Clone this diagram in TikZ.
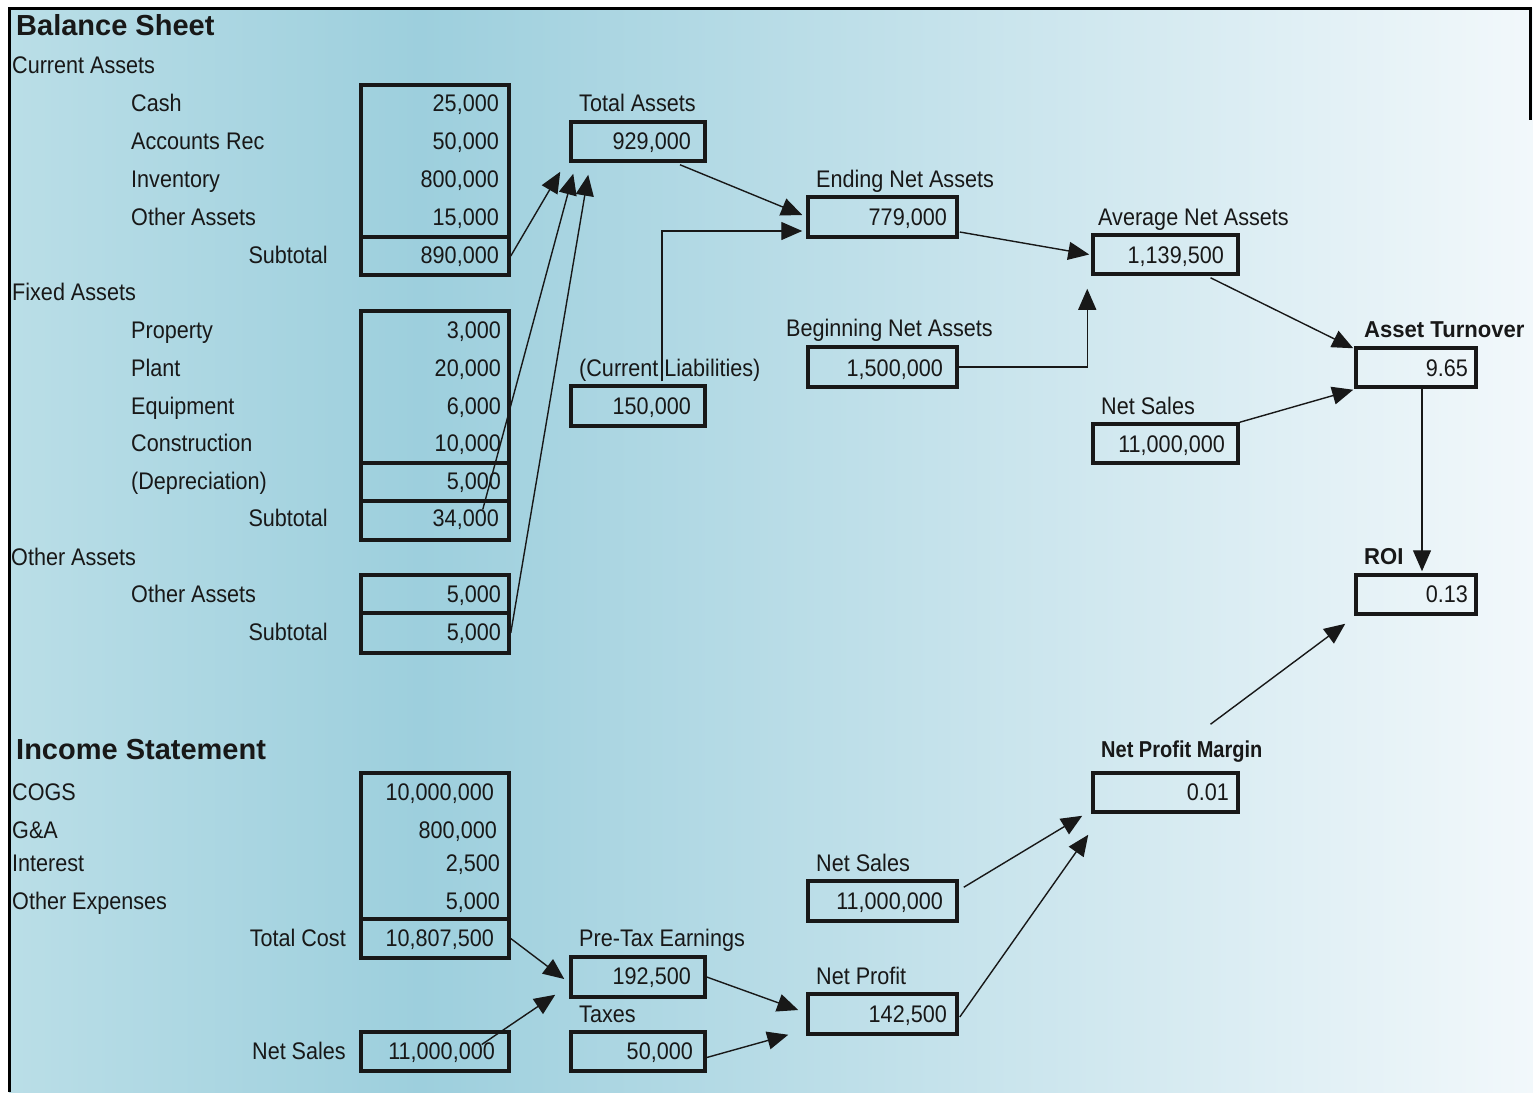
\documentclass[tikz,border=0pt]{standalone}
\usepackage{fontspec}
\setmainfont{Liberation Sans}[FakeStretch=0.9]
\newfontfamily\titlefont{Liberation Sans}
\usetikzlibrary{arrows.meta,positioning,calc}

\definecolor{bgleft}{RGB}{186,222,231}
\definecolor{bgmid}{RGB}{157,207,221}
\definecolor{bgright}{RGB}{242,248,251}
\definecolor{ink}{RGB}{24,24,24}

\newcommand{\txt}{\fontsize{24}{28}\selectfont}
\newcommand{\hdr}{\fontsize{23}{27}\selectfont\bfseries\addfontfeature{FakeStretch=0.96}}
\newcommand{\ttl}{\titlefont\fontsize{29}{34}\selectfont\bfseries}

\begin{document}
\begin{tikzpicture}[x=1pt,y=-1pt,>={Triangle[length=21pt,width=18pt]},
    box/.style={draw=ink, line width=3.5pt, minimum width=148pt, minimum height=38pt, inner sep=0pt},
    lbl/.style={anchor=base west, inner sep=0pt, text=ink, font=\txt},
    num/.style={anchor=base east, inner sep=0pt, text=ink, font=\txt},
    hd/.style={anchor=base west, inner sep=0pt, text=ink, font=\hdr},
    title/.style={anchor=base west, inner sep=0pt, text=ink, font=\ttl},
    link/.style={->, line width=1.4pt, draw=ink}]

    \useasboundingbox (0,0) rectangle (1533,1092);
    \shade[left color=bgleft, right color=bgmid] (9,8) rectangle (420,1092);
    \shade[left color=bgmid, right color=bgright] (420,8) rectangle (1533,1092);
    \draw[line width=3pt] (9,1092) -- (9,8) -- (1530,8) -- (1530,120);

    % balance sheet
    \node[title] (bs) at (16,35) {Balance Sheet};
    \node[lbl] (cahd) at (12,73) {Current Assets};
    \node[lbl] (ca1) at (131,111) {Cash};
    \node[lbl] (ca2) at (131,149) {Accounts Rec};
    \node[lbl] (ca3) at (131,187) {Inventory};
    \node[lbl] (ca4) at (131,225) {Other Assets};
    \node[lbl, anchor=base east] (cas) at (328,263) {Subtotal};

    \node[lbl] (fahd) at (12,300) {Fixed Assets};
    \node[lbl] (fa1) at (131,338) {Property};
    \node[lbl] (fa2) at (131,376) {Plant};
    \node[lbl] (fa3) at (131,414) {Equipment};
    \node[lbl] (fa4) at (131,451) {Construction};
    \node[lbl] (fa5) at (131,489) {(Depreciation)};
    \node[lbl, anchor=base east] (fas) at (328,526) {Subtotal};

    \node[lbl] (oahd) at (11,565) {Other Assets};
    \node[lbl] (oa1) at (131,602) {Other Assets};
    \node[lbl, anchor=base east] (oas) at (328,640) {Subtotal};

    \node[box, minimum height=152pt] (curbox) at (435,161) {};
    \node[box] (cursub) at (435,256) {};
    \node[box, minimum height=152pt] (fixbox) at (435,387) {};
    \node[box] (depbox) at (435,482) {};
    \node[box, minimum height=39pt] (fixsub) at (435,520.5) {};
    \node[box] (othbox) at (435,594) {};
    \node[box, minimum height=40pt] (othsub) at (435,633) {};

    \node[num] (cv1) at (499,111) {25,000};
    \node[num] (cv2) at (499,149) {50,000};
    \node[num] (cv3) at (499,187) {800,000};
    \node[num] (cv4) at (499,225) {15,000};
    \node[num] (cvs) at (499,263) {890,000};
    \node[num] (fv1) at (501,338) {3,000};
    \node[num] (fv2) at (501,376) {20,000};
    \node[num] (fv3) at (501,414) {6,000};
    \node[num] (fv4) at (501,451) {10,000};
    \node[num] (fv5) at (501,489) {5,000};
    \node[num] (fvs) at (499,526) {34,000};
    \node[num] (ov1) at (501,602) {5,000};
    \node[num] (ovs) at (501,640) {5,000};

    % income statement
    \node[title] (is) at (16,759) {Income Statement};
    \node[lbl] (ex1) at (12,800) {COGS};
    \node[lbl] (ex2) at (12,838) {G\&A};
    \node[lbl] (ex3) at (12,871) {Interest};
    \node[lbl] (ex4) at (12,909) {Other Expenses};
    \node[lbl, anchor=base east] (tcl) at (346,946) {Total Cost};
    \node[lbl, anchor=base east] (nsl) at (346,1059) {Net Sales};

    \node[box, minimum height=146pt] (costbox) at (435,846) {};
    \node[box, minimum height=39pt] (costsub) at (435,938.5) {};
    \node[box, minimum height=39pt] (nsbox) at (435,1051.5) {};

    \node[num] (ev1) at (494,800) {10,000,000};
    \node[num] (ev2) at (497,838) {800,000};
    \node[num] (ev3) at (500,871) {2,500};
    \node[num] (ev4) at (500,909) {5,000};
    \node[num] (evs) at (494,946) {10,807,500};
    \node[num] (nsv) at (495,1059) {11,000,000};

    % ratios
    \node[box, minimum width=134pt, minimum height=39pt] (totbox) at (638,141.5) {};
    \node[box, minimum width=134pt, minimum height=40pt] (liabox) at (638,406) {};
    \node[box, minimum width=134pt, minimum height=40pt] (prebox) at (638,977) {};
    \node[box, minimum width=134pt, minimum height=39pt] (taxbox) at (638,1051.5) {};
    \node[box, minimum width=149pt, minimum height=40pt] (endbox) at (882.5,217) {};
    \node[box, minimum width=149pt, minimum height=40pt] (begbox) at (882.5,367) {};
    \node[box, minimum width=149pt, minimum height=40pt] (salebox) at (882.5,901) {};
    \node[box, minimum width=149pt, minimum height=40pt] (profbox) at (882.5,1014) {};
    \node[box, minimum width=145pt, minimum height=39pt] (avgbox) at (1165.5,254.5) {};
    \node[box, minimum width=145pt, minimum height=39pt] (nsalebox) at (1165.5,443.5) {};
    \node[box, minimum width=145pt, minimum height=39pt] (marbox) at (1165.5,792.5) {};
    \node[box, minimum width=120pt, minimum height=39pt] (turnbox) at (1416,367.5) {};
    \node[box, minimum width=120pt, minimum height=39pt] (roibox) at (1416,594.5) {};

    \node[lbl] (totl) at (579,111) {Total Assets};
    \node[num] (totv) at (691,149) {929,000};
    \node[lbl] (lial) at (579,376) {(Current Liabilities)};
    \node[num] (liav) at (691,414) {150,000};
    \node[lbl] (endl) at (816,187) {Ending Net Assets};
    \node[num] (endv) at (947,225) {779,000};
    \node[lbl] (begl) at (786,336) {Beginning Net Assets};
    \node[num] (begv) at (943,376) {1,500,000};
    \node[lbl] (avgl) at (1098,225) {Average Net Assets};
    \node[num] (avgv) at (1224,263) {1,139,500};
    \node[lbl] (nsalel) at (1101,414) {Net Sales};
    \node[num] (nsalev) at (1225,452) {11,000,000};
    \node[hd] (turnl) at (1364,337) {Asset Turnover};
    \node[num] (turnv) at (1468,376) {9.65};
    \node[hd] (roil) at (1364,564) {ROI};
    \node[num] (roiv) at (1468,602) {0.13};
    \node[hd] (marl) at (1101,757) {\addfontfeature{FakeStretch=0.87}Net Profit Margin};
    \node[num] (marv) at (1229,800) {0.01};
    \node[lbl] (salel) at (816,871) {Net Sales};
    \node[num] (salev) at (943,909) {11,000,000};
    \node[lbl] (prel) at (579,946) {Pre-Tax Earnings};
    \node[num] (prev) at (691,984) {192,500};
    \node[lbl] (taxl) at (579,1022) {Taxes};
    \node[num] (taxv) at (693,1059) {50,000};
    \node[lbl] (profl) at (816,984) {Net Profit};
    \node[num] (profv) at (947,1022) {142,500};

    % connectors
    \draw[link] (cursub.east) -- ($(totbox.south west)+(-9,9)$);
    \draw[link] ($(fixsub.east)+(-28,-11)$) -- ($(totbox.south west)+(4,11)$);
    \draw[link] (othsub.east) -- ($(totbox.south west)+(19,12)$);
    \draw[link] ($(totbox.south)+(42,2)$) -- ($(endbox.west)+(-4,-2)$);
    \draw[link] ($(liabox.north)+(24,-3)$) |- ($(endbox.west)+(-4,14)$);
    \draw[link] ($(endbox.east)+(1,15)$) -- ($(avgbox.west)+(-2,0)$);
    \draw[link] (begbox.east) -| ($(avgbox.south west)+(-4,13)$);
    \draw[link] ($(avgbox.south)+(45,2)$) -- ($(turnbox.north west)+(-1,2)$);
    \draw[link] (nsalebox.north east) -- ($(turnbox.south west)+(-1,1)$);
    \draw[link] ($(turnbox.south)+(6,0)$) -- ($(roibox.north)+(6,-2)$);
    \draw[link] ($(marbox.north)+(45,-47)$) -- ($(roibox.south west)+(-9,8)$);
    \draw[link] ($(salebox.north east)+(5,8)$) -- ($(marbox.south west)+(-9,2)$);
    \draw[link] ($(profbox.east)+(1,3)$) -- ($(marbox.south west)+(-3,21)$);
    \draw[link] (costsub.east) -- ($(prebox.west)+(-5,2)$);
    \draw[link] ($(nsbox.east)+(-29,-7)$) -- ($(prebox.south west)+(-14,-4)$);
    \draw[link] (prebox.east) -- ($(profbox.west)+(-8,-4)$);
    \draw[link] ($(taxbox.east)+(0,6)$) -- ($(profbox.south west)+(-18,-1)$);
\end{tikzpicture}
\end{document}
